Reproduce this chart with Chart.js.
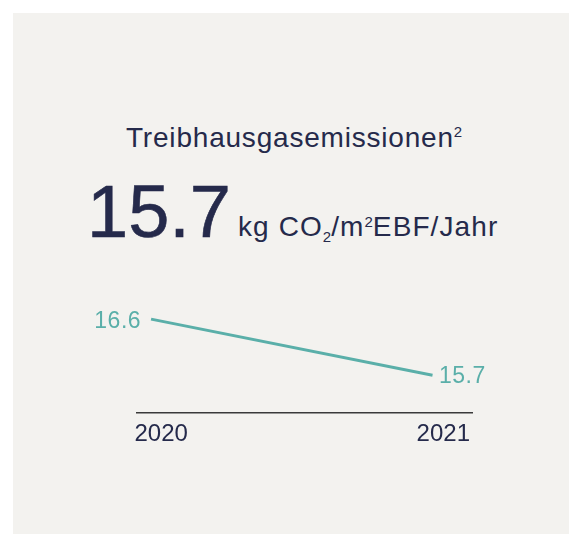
<!DOCTYPE html>
<html>
<head>
<meta charset="utf-8">
<script src="https://cdn.jsdelivr.net/npm/chart.js@4.4.1/dist/chart.umd.min.js"></script>
<style>
  html, body { margin:0; padding:0; background:#ffffff; width:570px; height:534px; overflow:hidden; }
  #panel { position:absolute; left:13px; top:13px; width:556px; height:521px; background:#f3f2ef; }
  .txt { position:absolute; font-family:"Liberation Sans", Arial, sans-serif; color:#252a4b; white-space:nowrap; }
  #title { left:126px; top:124px; font-size:28px; line-height:28px; letter-spacing:0.8px; }
  #title sup { font-size:15px; vertical-align:10px; line-height:0; letter-spacing:0; }
  #big { left:87px; top:176px; font-size:74px; line-height:74px; margin-top:-1px; -webkit-text-stroke:0.6px #252a4b; }
  #unit { left:238px; top:214px; font-size:28px; line-height:28px; letter-spacing:1.1px; margin-top:-1px; }
  #unit .sub { font-size:15px; vertical-align:-6px; line-height:0; letter-spacing:0; }
  #unit .sup { font-size:15px; vertical-align:9px; line-height:0; letter-spacing:0; }
  #wrap { position:absolute; left:0; top:0; width:570px; height:534px; }
</style>
</head>
<body>
<div id="panel"></div>
<div class="txt" id="title">Treibhausgasemissionen<sup>2</sup></div>
<div class="txt" id="big">15.7</div>
<div class="txt" id="unit">kg CO<span class="sub">2</span>/m<span class="sup">2</span>EBF/Jahr</div>
<div id="wrap"><canvas id="c" width="570" height="534"></canvas></div>
<script>
const categories = ['2020', '2021'];
const emissions = [16.6, 15.7];
const tickLabels = ['2020', '2021'];

const TEAL = '#5aafa9';
const NAVY = '#252a4b';

const dataLabels = {
  id: 'dataLabels',
  afterDatasetsDraw(chart) {
    const ctx = chart.ctx;
    const meta = chart.getDatasetMeta(0);
    ctx.save();
    ctx.font = '23px "Liberation Sans", Arial, sans-serif';
    ctx.fillStyle = TEAL;
    if ('letterSpacing' in ctx) ctx.letterSpacing = '0.5px';
    ctx.textBaseline = 'alphabetic';
    meta.data.forEach((pt, i) => {
      const txt = emissions[i].toFixed(1);
      if (i === 0) {
        ctx.textAlign = 'right';
        ctx.fillText(txt, pt.x - 10, pt.y + 8.5);
      } else {
        ctx.textAlign = 'left';
        ctx.fillText(txt, pt.x + 6.5, pt.y + 8);
      }
    });
    ctx.restore();
  }
};

new Chart(document.getElementById('c'), {
  type: 'line',
  data: {
    datasets: [{
      data: categories.map((c, i) => ({ x: Number(c), y: emissions[i] })),
      xAxisID: 'xd',
      yAxisID: 'y',
      borderColor: TEAL,
      borderWidth: 3,
      pointRadius: 0,
      tension: 0,
      fill: false
    }]
  },
  options: {
    responsive: false,
    animation: false,
    events: [],
    layout: { padding: { left: 137, right: 97.5, top: 280, bottom: 78 } },
    plugins: { legend: { display: false }, tooltip: { enabled: false } },
    scales: {
      x: {
        type: 'category',
        labels: tickLabels,
        offset: false,
        grid: { display: false, drawTicks: false },
        border: { display: true, color: '#3a3a3a', width: 1.5 },
        ticks: {
          align: 'inner',
          padding: 7,
          labelOffset: -2.5,
          color: NAVY,
          maxRotation: 0,
          autoSkip: false,
          font: { family: '"Liberation Sans", Arial, sans-serif', size: 24 }
        }
      },
      xd: { type: 'linear', display: false, min: 2019.950, max: 2021.142 },
      y: { type: 'linear', display: false, min: 15.091, max: 17.227 }
    }
  },
  plugins: [dataLabels]
});
</script>
</body>
</html>
